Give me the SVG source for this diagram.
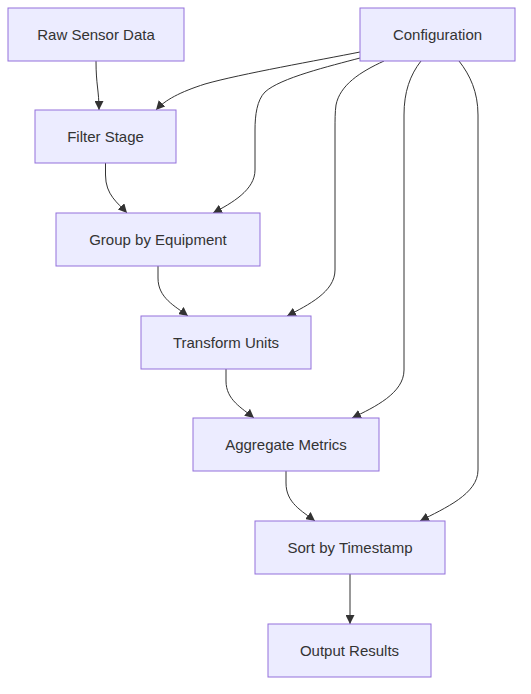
<svg xmlns="http://www.w3.org/2000/svg" width="531" height="694" viewBox="0 0 531 694">
<defs>
<marker id="arrow" viewBox="0 0 10 10" refX="10" refY="5" markerUnits="userSpaceOnUse" markerWidth="9" markerHeight="9" orient="auto">
<path d="M0,0 L10,5 L0,10 z" fill="#333333"/>
</marker>
<style>
.node rect{fill:#ECECFF;stroke:#9370DB;stroke-width:1}
.node text{font-family:"Liberation Sans",Arial,sans-serif;font-size:15px;fill:#333333;text-anchor:middle;dominant-baseline:central}
.edge{fill:none;stroke:#333333;stroke-width:1;marker-end:url(#arrow)}
</style>
</defs>
<rect width="531" height="694" fill="#ffffff"/>
<g id="edges">
<path class="edge" d="M96,61 C96,85 99,90 99,110"/>
<path class="edge" d="M360,52 C320,60 240,74 205,84 C180,92 165,100 156,110"/>
<path class="edge" d="M360,58 C330,66 280,78 265,92 C257,100 255,115 255,130 L255,170 C255,190 232,203 213,213"/>
<path class="edge" d="M384,61 C360,72 340,85 336,105 C335,112 335,120 335,130 L335,270 C335,292 308,305 287,316"/>
<path class="edge" d="M421,61 C410,75 404,92 404,115 L404,370 C404,393 375,407 352,418"/>
<path class="edge" d="M459,61 C470,75 478,92 478,115 L478,470 C478,494 445,508 420,521"/>
<path class="edge" d="M105.5,163 L105.5,175 C105.5,195 118,203 127,213"/>
<path class="edge" d="M158,266 L158,278 C158,298 175,306 188,316"/>
<path class="edge" d="M226,369 L226,381 C226,400 242,408 254,418"/>
<path class="edge" d="M286,471 L286,483 C286,503 302,511 315,521"/>
<path class="edge" d="M350,574 L350,624"/>
</g>
<g id="raw" class="node"><rect x="8" y="8" width="176" height="53"/><text x="96" y="34.5">Raw Sensor Data</text></g>
<g id="config" class="node"><rect x="360" y="8" width="155" height="53"/><text x="437.5" y="34.5">Configuration</text></g>
<g id="filter" class="node"><rect x="35" y="110" width="141" height="53"/><text x="105.5" y="136.5">Filter Stage</text></g>
<g id="group" class="node"><rect x="56" y="213" width="204" height="53"/><text x="158" y="239.5">Group by Equipment</text></g>
<g id="transform" class="node"><rect x="141" y="316" width="170" height="53"/><text x="226" y="342.5">Transform Units</text></g>
<g id="aggregate" class="node"><rect x="193" y="418" width="186" height="53"/><text x="286" y="444.5">Aggregate Metrics</text></g>
<g id="sort" class="node"><rect x="255" y="521" width="190" height="53"/><text x="350" y="547.5">Sort by Timestamp</text></g>
<g id="output" class="node"><rect x="268" y="624" width="163" height="53"/><text x="349.5" y="650.5">Output Results</text></g>
</svg>
